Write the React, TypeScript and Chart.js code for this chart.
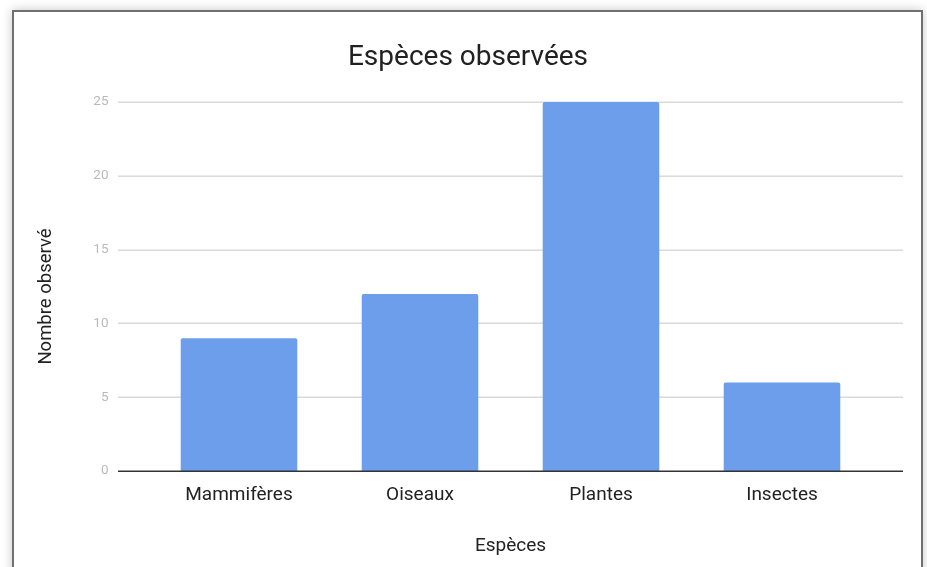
import React, { useEffect, useRef } from "react";
import { Chart, registerables } from "chart.js";

Chart.register(...registerables);

const categories = ["Mammifères", "Oiseaux", "Plantes", "Insectes"];
const observedCounts = [9, 12, 25, 6];
const yTicks = [0, 5, 10, 15, 20, 25];

const chartTitle = "Espèces observées";
const xAxisTitle = "Espèces";
const yAxisTitle = "Nombre observé";

const FONT = "Roboto, 'Noto Sans', sans-serif";

const gridPlugin = {
  id: "extendedGrid",
  beforeDatasetsDraw(chart: any) {
    const { ctx, chartArea } = chart;
    const y = chart.scales.y;
    ctx.save();
    ctx.strokeStyle = "#dadada";
    ctx.lineWidth = 1.5;
    yTicks.forEach((v) => {
      if (v === 0) return;
      const py = Math.round(y.getPixelForValue(v)) + 0.25;
      ctx.beginPath();
      ctx.moveTo(chartArea.left - 30.5, py);
      ctx.lineTo(chartArea.right + 30.5, py);
      ctx.stroke();
    });
    ctx.restore();
  },
  afterDatasetsDraw(chart: any) {
    const { ctx, chartArea } = chart;
    const y = chart.scales.y;
    const py = Math.round(y.getPixelForValue(0)) + 0.25;
    ctx.save();
    ctx.strokeStyle = "#333333";
    ctx.lineWidth = 1.5;
    ctx.beginPath();
    ctx.moveTo(chartArea.left - 30.5, py);
    ctx.lineTo(chartArea.right + 30.5, py);
    ctx.stroke();
    // y axis title
    ctx.fillStyle = "#222222";
    ctx.font = `18.5px ${FONT}`;
    ctx.textAlign = "center";
    ctx.textBaseline = "middle";
    ctx.translate(46.5, (chartArea.top + chartArea.bottom) / 2 + 10);
    ctx.rotate(-Math.PI / 2);
    ctx.fillText(yAxisTitle, 0, 0);
    ctx.restore();
  },
};

export default function App() {
  const canvasRef = useRef<HTMLCanvasElement | null>(null);

  useEffect(() => {
    const canvas = canvasRef.current;
    if (!canvas) return;
    const chart = new Chart(canvas, {
      type: "bar",
      data: {
        labels: categories,
        datasets: [
          {
            label: yAxisTitle,
            data: observedCounts,
            backgroundColor: "#6d9eeb",
            borderRadius: 2,
            borderSkipped: "bottom",
            barPercentage: 0.644,
            categoryPercentage: 1,
          },
        ],
      },
      options: {
        animation: false,
        responsive: false,
        maintainAspectRatio: false,
        devicePixelRatio: 1,
        layout: { padding: { left: 9, right: 0, top: 0, bottom: 0 } },
        plugins: {
          legend: { display: false },
          tooltip: { enabled: false },
          title: {
            display: true,
            text: chartTitle,
            color: "#212121",
            font: { family: FONT, size: 28, weight: "normal" },
            padding: { top: 41, bottom: 27.4 },
          },
        },
        scales: {
          x: {
            grid: { display: false, drawTicks: false },
            border: { display: false },
            ticks: {
              color: "#222222",
              font: { family: FONT, size: 19 },
              padding: 13,
            },
            title: {
              display: true,
              text: xAxisTitle,
              color: "#222222",
              font: { family: FONT, size: 19 },
              padding: { top: 0, bottom: 9.3 },
            },
            afterFit(scale: any) {
              scale.height = 96;
            },
          },
          y: {
            min: 0,
            max: 25,
            grid: { display: false, drawTicks: false },
            border: { display: false },
            ticks: {
              stepSize: 5,
              color: "#b9b9b9",
              font: { family: FONT, size: 13.5 },
              padding: 40,
            },
            afterFit(scale: any) {
              scale.width = 139.5;
            },
          },
          yRight: {
            position: "right",
            min: 0,
            max: 25,
            grid: { display: false, drawTicks: false },
            border: { display: false },
            ticks: { display: false },
            afterFit(scale: any) {
              scale.width = 54.5;
            },
          },
        },
      },
      plugins: [gridPlugin],
    });
    return () => chart.destroy();
  }, []);

  return (
    <div
      style={{
        position: "fixed",
        left: 0,
        top: 0,
        width: 927,
        height: 567,
        background: "#ffffff",
        overflow: "hidden",
      }}
    >
      <div
        style={{
          position: "absolute",
          left: 12,
          top: 10,
          width: 907,
          height: 600,
          border: "2px solid #707070",
          background: "#ffffff",
          boxShadow: "0 0 10px rgba(0,0,0,0.22)",
        }}
      />
      <canvas
        ref={canvasRef}
        width={927}
        height={567}
        style={{ position: "absolute", left: 0, top: 0, width: 927, height: 567 }}
      />
    </div>
  );
}
